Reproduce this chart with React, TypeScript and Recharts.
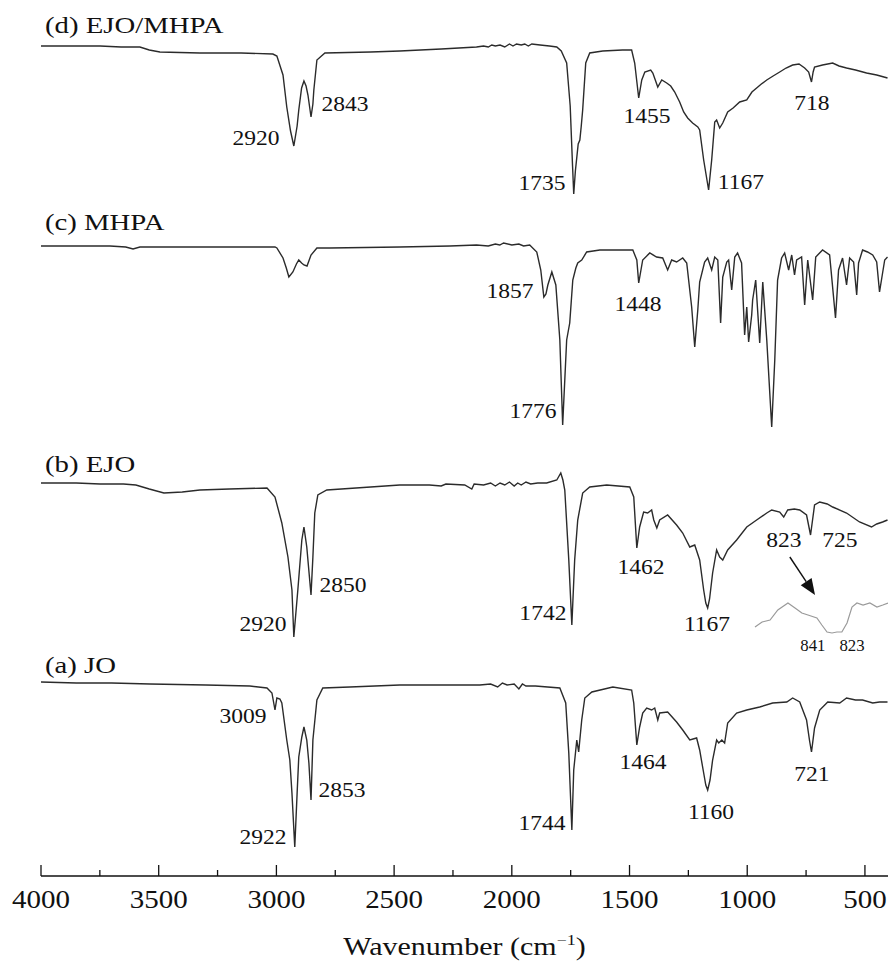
import { Label, Line, LineChart, ReferenceDot, ReferenceLine, XAxis, YAxis } from "recharts"

const WIDTH = 888
const HEIGHT = 962
const AXIS_Y = 876
const SERIF = '"Liberation Serif", "Times New Roman", serif'
const INK = "#2b2b2b"

// [wavenumber cm-1, relative transmittance (a.u., 0 = trace baseline)]
const JO: [number, number][] = [
  [4000, 1], [3850, 0], [3700, 0], [3537, -1], [3300, -2], [3113, -3], [3040, -5], [3019, -10],
  [3006, -27], [2998, -15], [2985, -16], [2977, -20], [2956, -57], [2943, -77], [2934, -110],
  [2922, -164], [2912, -110], [2905, -74], [2892, -54], [2883, -44], [2871, -57], [2862, -80],
  [2853, -117], [2845, -57], [2828, -17], [2803, -5], [2688, -4], [2476, -2], [2136, -2],
  [2090, -1], [2060, -4], [2040, 0], [2020, -2], [1990, -1], [1970, -6], [1955, -1], [1940, -3],
  [1900, -3], [1796, -5], [1771, -20], [1758, -70], [1745, -147], [1737, -87], [1724, -57],
  [1716, -69], [1703, -37], [1690, -15], [1660, -9], [1571, -4], [1491, -7], [1482, -20],
  [1469, -62], [1457, -44], [1444, -30], [1427, -25], [1406, -27], [1393, -25], [1380, -37],
  [1372, -30], [1338, -29], [1300, -39], [1274, -47], [1244, -57], [1215, -55], [1202, -67],
  [1185, -90], [1176, -102], [1168, -107], [1158, -97], [1147, -77], [1130, -57], [1121, -60],
  [1108, -57], [1096, -60], [1083, -40], [1045, -30], [1002, -27], [947, -24], [892, -20],
  [832, -19], [807, -15], [777, -19], [748, -37], [735, -58], [727, -69], [714, -45], [692, -27],
  [658, -19], [607, -20], [578, -15], [540, -17], [510, -17], [467, -20], [438, -19], [404, -19],
]

const EJO: [number, number][] = [
  [4000, -1], [3850, -1], [3749, -2], [3650, -2], [3597, -3], [3540, -7], [3478, -11], [3400, -10],
  [3325, -8], [3200, -7], [3040, -6], [3006, -15], [2977, -41], [2951, -75], [2934, -108],
  [2926, -155], [2909, -108], [2892, -58], [2883, -45], [2871, -65], [2853, -113], [2845, -75],
  [2837, -31], [2824, -13], [2786, -8], [2600, -5], [2476, -3], [2350, -3], [2300, -4], [2280, -2],
  [2200, -3], [2170, -7], [2160, -2], [2120, -3], [2090, -1], [2070, -4], [2050, -1], [2030, -3],
  [2010, 0], [1990, -4], [1975, -1], [1960, -3], [1940, 0], [1920, -2], [1890, -1], [1852, -1],
  [1809, 2], [1792, 9], [1783, 2], [1775, -8], [1758, -78], [1745, -143], [1733, -78], [1720, -38],
  [1699, -11], [1669, -5], [1597, -3], [1499, -5], [1482, -15], [1469, -66], [1457, -45],
  [1440, -30], [1423, -31], [1406, -28], [1397, -38], [1384, -46], [1372, -38], [1338, -33],
  [1300, -43], [1274, -51], [1244, -65], [1223, -63], [1202, -78], [1185, -108], [1176, -121],
  [1168, -126], [1160, -117], [1147, -91], [1130, -68], [1117, -75], [1104, -78], [1083, -68],
  [1045, -58], [1002, -45], [960, -38], [917, -31], [896, -28], [862, -30], [845, -35], [828, -28],
  [800, -27], [777, -28], [748, -33], [731, -53], [714, -23], [692, -20], [660, -22], [637, -25],
  [578, -31], [523, -40], [472, -45], [450, -42], [425, -40], [404, -38],
]

// zoomed view of the 841 / 823 band, drawn under the EJO trace
const EJO_INSET: [number, number][] = [
  [967, -145], [937, -140], [903, -138], [870, -128], [827, -121], [797, -126], [768, -131],
  [742, -133], [704, -136], [683, -143], [661, -150], [640, -151], [619, -150], [598, -150],
  [576, -141], [555, -125], [534, -121], [508, -123], [479, -121], [449, -125], [424, -123],
  [402, -121],
]

const MHPA: [number, number][] = [
  [4000, 0], [3800, 0], [3707, 0], [3640, -1], [3609, -3], [3580, -1], [3537, -1], [3300, -1],
  [3006, -1], [2998, -2], [2972, -12], [2958, -22], [2947, -31], [2930, -26], [2915, -18],
  [2905, -14], [2893, -17], [2883, -19], [2870, -20], [2853, -9], [2828, -2], [2773, -2],
  [2476, -1], [2263, 0], [2150, 1], [2100, 0], [2070, 2], [2051, 1], [2035, 3], [2000, 1],
  [1970, 2], [1950, 0], [1924, 1], [1894, -6], [1877, -24], [1864, -51], [1855, -48], [1847, -39],
  [1830, -26], [1813, -39], [1796, -94], [1784, -179], [1767, -94], [1754, -77], [1741, -34],
  [1728, -22], [1720, -17], [1703, -14], [1682, -6], [1626, -4], [1486, -4], [1469, -14],
  [1461, -37], [1444, -14], [1414, -7], [1385, -11], [1359, -12], [1338, -24], [1321, -14],
  [1300, -16], [1274, -12], [1257, -17], [1236, -61], [1223, -101], [1210, -64], [1202, -36],
  [1181, -16], [1168, -12], [1151, -24], [1138, -11], [1125, -14], [1113, -77], [1104, -31],
  [1087, -16], [1079, -14], [1066, -44], [1053, -11], [1041, -7], [1024, -17], [1011, -89],
  [1002, -61], [994, -96], [981, -69], [977, -54], [964, -34], [947, -97], [934, -36], [917, -94],
  [896, -181], [883, -114], [871, -34], [854, -12], [841, -7], [824, -24], [811, -9], [799, -29],
  [790, -14], [769, -11], [756, -59], [743, -14], [722, -54], [709, -11], [680, -4], [650, -9],
  [625, -72], [612, -24], [595, -12], [578, -39], [565, -12], [548, -16], [535, -49], [527, -17],
  [510, -4], [489, -6], [467, -9], [450, -16], [438, -46], [425, -27], [416, -14], [404, -11],
]

const EJO_MHPA: [number, number][] = [
  [4000, 0], [3870, 0], [3749, 0], [3660, -1], [3580, -1], [3540, -4], [3495, -6], [3325, -7],
  [3150, -7], [3015, -8], [2998, -10], [2972, -29], [2956, -61], [2940, -85], [2926, -100],
  [2912, -80], [2905, -64], [2893, -42], [2883, -35], [2874, -40], [2866, -49], [2853, -71],
  [2845, -58], [2841, -44], [2828, -14], [2794, -7], [2600, -6], [2476, -5], [2300, -3],
  [2150, -1], [2120, 0], [2100, -1], [2085, 1], [2070, 0], [2050, 1], [2030, -1], [2010, 2],
  [1995, 0], [1980, 2], [1960, 1], [1945, 2], [1930, 0], [1915, 2], [1880, 1], [1840, 0],
  [1809, -1], [1790, -5], [1767, -17], [1752, -60], [1742, -120], [1737, -148], [1730, -125],
  [1718, -98], [1711, -94], [1705, -80], [1699, -64], [1686, -17], [1669, -7], [1614, -5],
  [1530, -4], [1491, -4], [1478, -17], [1461, -52], [1448, -34], [1435, -26], [1410, -24],
  [1401, -27], [1380, -41], [1363, -34], [1342, -37], [1325, -40], [1308, -46], [1287, -56],
  [1270, -66], [1253, -72], [1232, -77], [1210, -81], [1202, -84], [1185, -114], [1164, -144],
  [1151, -114], [1138, -76], [1130, -74], [1117, -82], [1104, -77], [1083, -66], [1060, -62],
  [1032, -56], [1002, -54], [980, -46], [960, -42], [940, -38], [917, -34], [890, -30], [862, -26],
  [835, -22], [807, -19], [780, -18], [756, -22], [739, -26], [727, -36], [720, -26], [714, -21],
  [680, -19], [637, -17], [610, -20], [578, -22], [540, -24], [493, -27], [450, -29], [404, -32],
]

const X_TICKS = [4000, 3750, 3500, 3250, 3000, 2750, 2500, 2250, 2000, 1750, 1500, 1250, 1000, 750, 500]

// label text, wavenumber of text centre, value of text centre
const PEAKS_D: [string, number, number][] = [
  ["2920", 3087, -91], ["2843", 2709, -57], ["1735", 1872, -136],
  ["1455", 1426, -69], ["1167", 1027, -135], ["718", 725, -56],
]
const PEAKS_C: [string, number, number][] = [
  ["1857", 2008, -44], ["1776", 1910, -164], ["1448", 1464, -57],
]
const PEAKS_B: [string, number, number][] = [
  ["2920", 3057, -141], ["2850", 2717, -102], ["1742", 1868, -130], ["1462", 1451, -84],
  ["1167", 1171, -141], ["823", 844, -57], ["725", 606, -57],
]
const INSET_PEAKS: [string, number, number][] = [["841", 721, -163], ["823", 555, -163]]
const PEAKS_A: [string, number, number][] = [
  ["3009", 3142, -32], ["2853", 2721, -106], ["2922", 3057, -153], ["1744", 1872, -139],
  ["1464", 1443, -78], ["1160", 1154, -128], ["721", 725, -90],
]

const TRACES = [
  { name: "(d) EJO/MHPA", rows: EJO_MHPA, base: 46, title: 13, peaks: PEAKS_D },
  { name: "(c) MHPA", rows: MHPA, base: 246, title: 16, peaks: PEAKS_C },
  { name: "(b) EJO", rows: EJO, base: 482, title: 10, peaks: PEAKS_B },
  { name: "(a) JO", rows: JO, base: 683, title: 10, peaks: PEAKS_A },
]

const toY = (base: number, v: number) => AXIS_Y - base + v
const toPoints = (rows: [number, number][], base: number) =>
  rows.map(([wn, v]) => ({ wn, y: toY(base, v) }))

const textShape =
  (text: string, size: number, anchor: "start" | "middle", sx: number, dy: string) =>
  (p: any) => (
    <text
      transform={`translate(${p.cx} ${p.cy}) scale(${sx} 1)`}
      textAnchor={anchor}
      dy={dy}
      fontSize={size}
      style={{ fontFamily: SERIF }}
      fill="#111"
    >
      {text}
    </text>
  )

const arrowShape = (p: any) => {
  const { x1, y1, x2, y2 } = p
  const a = Math.atan2(y2 - y1, x2 - x1)
  const bx = x2 - 16 * Math.cos(a)
  const by = y2 - 16 * Math.sin(a)
  const hx = 6.5 * Math.sin(a)
  const hy = 6.5 * Math.cos(a)
  return (
    <g>
      <line x1={x1} y1={y1} x2={bx} y2={by} stroke="#111" strokeWidth={1.4} />
      <polygon points={`${x2},${y2} ${bx - hx},${by + hy} ${bx + hx},${by - hy}`} fill="#111" />
    </g>
  )
}

function WnTick(props: any) {
  const { x, y, payload } = props
  const major = payload.value % 500 === 0
  return (
    <g>
      <line x1={x} x2={x} y1={y} y2={y - (major ? 11 : 6)} stroke="#111" strokeWidth={1.3} />
      {major && (
        <text
          transform={`translate(${x} ${y + 32}) scale(1.16 1)`}
          textAnchor="middle"
          fontSize={25}
          style={{ fontFamily: SERIF }}
          fill="#111"
        >
          {payload.value}
        </text>
      )}
    </g>
  )
}

function AxisTitle(props: any) {
  const { viewBox } = props
  const cx = viewBox.x + viewBox.width / 2
  return (
    <text
      transform={`translate(${cx} ${viewBox.y + 79}) scale(1.2 1)`}
      textAnchor="middle"
      fontSize={25}
      style={{ fontFamily: SERIF }}
      fill="#111"
    >
      Wavenumber (cm
      <tspan fontSize={15} dy={-10}>
        −1
      </tspan>
      <tspan dy={10}>)</tspan>
    </text>
  )
}

export default function App() {
  const bBase = 482
  return (
    <div style={{ position: "absolute", left: 0, top: 0, width: WIDTH, height: HEIGHT, background: "#fff" }}>
      <LineChart width={WIDTH} height={HEIGHT} margin={{ top: 0, right: 0, bottom: 0, left: 41 }}>
        <XAxis
          type="number"
          dataKey="wn"
          domain={[402, 4000]}
          reversed
          allowDataOverflow
          ticks={X_TICKS}
          interval={0}
          tickSize={0}
          tickMargin={0}
          height={HEIGHT - AXIS_Y}
          axisLine={{ stroke: "#111", strokeWidth: 1.3 }}
          tickLine={false}
          tick={(p: any) => <WnTick {...p} />}
        >
          <Label content={(p: any) => <AxisTitle {...p} />} />
        </XAxis>
        <YAxis hide type="number" domain={[0, AXIS_Y]} allowDataOverflow />

        {TRACES.map((t) => (
          <Line
            key={t.name}
            data={toPoints(t.rows, t.base)}
            dataKey="y"
            type="linear"
            stroke={INK}
            strokeWidth={1.4}
            dot={false}
            isAnimationActive={false}
          />
        ))}
        <Line
          data={toPoints(EJO_INSET, bBase)}
          dataKey="y"
          type="linear"
          stroke="#9a9a9a"
          strokeWidth={1.2}
          dot={false}
          isAnimationActive={false}
        />

        {TRACES.map((t) => (
          <ReferenceDot
            key={`title-${t.name}`}
            x={3983}
            y={toY(t.base, t.title)}
            r={0}
            ifOverflow="visible"
            shape={textShape(t.name, 23, "start", 1.25, "0")}
          />
        ))}
        {TRACES.flatMap((t) =>
          t.peaks.map(([label, wn, v]) => (
            <ReferenceDot
              key={`${t.name}-${label}`}
              x={wn}
              y={toY(t.base, v)}
              r={0}
              ifOverflow="visible"
              shape={textShape(label, 22, "middle", 1.07, "0.35em")}
            />
          ))
        )}
        {INSET_PEAKS.map(([label, wn, v]) => (
          <ReferenceDot
            key={`inset-${label}`}
            x={wn}
            y={toY(bBase, v)}
            r={0}
            ifOverflow="visible"
            shape={textShape(label, 16, "middle", 1.05, "0.35em")}
          />
        ))}
        <ReferenceLine
          segment={[
            { x: 819, y: toY(bBase, -75) },
            { x: 712, y: toY(bBase, -113) },
          ]}
          ifOverflow="visible"
          shape={arrowShape}
        />
      </LineChart>
    </div>
  )
}
